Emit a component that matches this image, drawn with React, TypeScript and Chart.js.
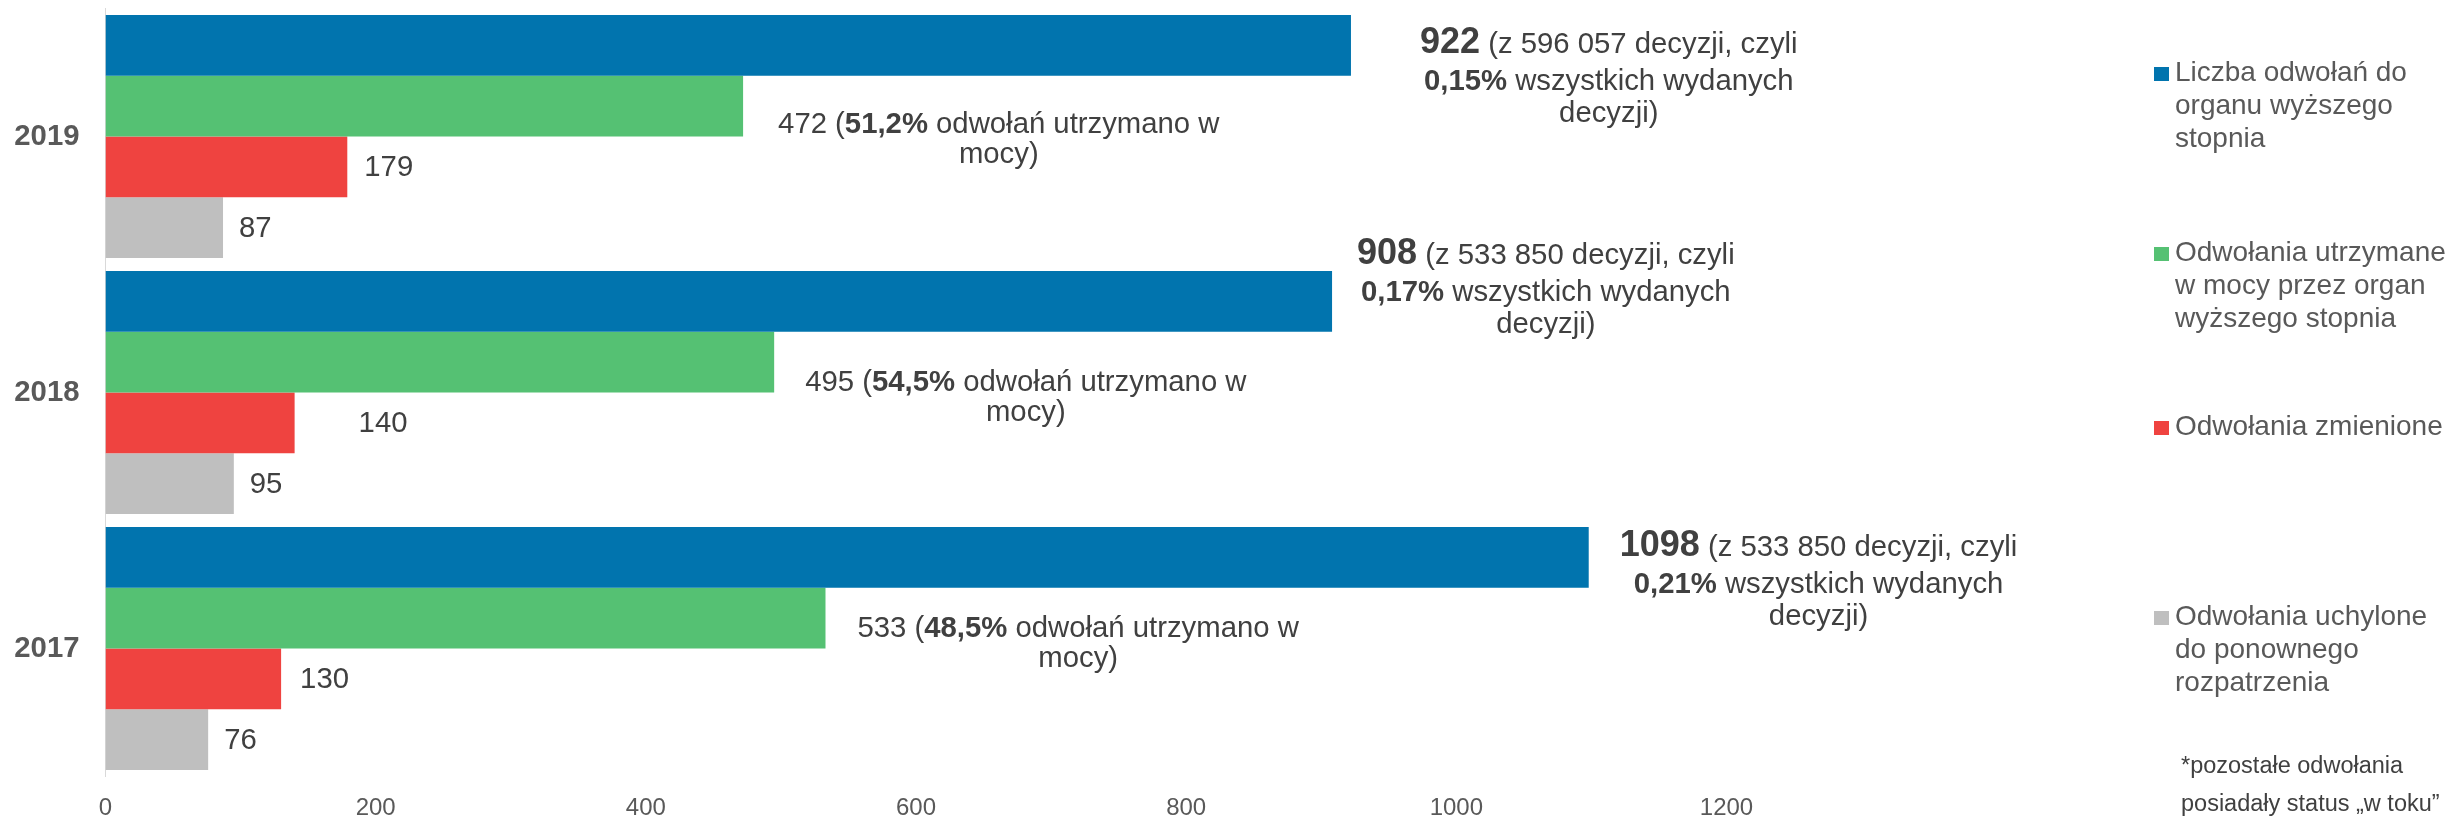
import React, { useEffect, useRef } from 'react';
import { Chart, registerables } from 'chart.js';

Chart.register(...registerables);

// ---------- data ----------
const categories = ['2019', '2018', '2017'];
const appealsTotal = [922, 908, 1098];
const appealsUpheld = [472, 495, 533];
const appealsChanged = [179, 140, 130];
const appealsRevoked = [87, 95, 76];
const decisionsIssued = ['596 057', '533 850', '533 850'];
const appealsShareOfDecisions = ['0,15%', '0,17%', '0,21%'];
const upheldShare = ['51,2%', '54,5%', '48,5%'];
const xTicks = [0, 200, 400, 600, 800, 1000, 1200];
const seriesNames = [
  'Liczba odwołań do organu wyższego stopnia',
  'Odwołania utrzymane w mocy przez organ wyższego stopnia',
  'Odwołania zmienione',
  'Odwołania uchylone do ponownego rozpatrzenia',
];
const legendLines = [
  ['Liczba odwołań do', 'organu wyższego', 'stopnia'],
  ['Odwołania utrzymane', 'w mocy przez organ', 'wyższego stopnia'],
  ['Odwołania zmienione'],
  ['Odwołania uchylone', 'do ponownego', 'rozpatrzenia'],
];
const footnoteLines = ['*pozostałe odwołania', 'posiadały status „w toku”'];

// ---------- styles / layout ----------
const W = 2451;
const H = 818;
const FONT = '"Liberation Sans", Arial, Helvetica, sans-serif';
const COLORS = ['#0174AE', '#55C173', '#EF4340', '#BFBFBF'];
const LABEL_COLOR = '#404040';
const AXIS_COLOR = '#595959';
const NORM = 29.3;
const BIG = 36;

// label nudges (gap from bar end, baseline offset from bar centre)
const blueNudge = [
  { gap: 69, dy: 7.5 },
  { gap: 25, dy: -37.5 },
  { gap: 31, dy: -1.5 },
];
const greenNudge = [
  { gap: 35, dy: 26.5 },
  { gap: 31, dy: 29 },
  { gap: 32, dy: 19 },
];
const redGap = [17, 64, 19];
const grayGap = [16, 16, 16];
const legendFirstLineY = [73, 253, 427, 617];

type Seg = { t: string; b?: boolean; big?: boolean };

function segFont(s: Seg) {
  return `${s.b ? 'bold ' : ''}${s.big ? BIG : NORM}px ${FONT}`;
}

function drawBlock(ctx: CanvasRenderingContext2D, lines: Seg[][], left: number, base0: number, offs: number[]) {
  const widths = lines.map((line) =>
    line.reduce((acc, s) => {
      ctx.font = segFont(s);
      return acc + ctx.measureText(s.t).width;
    }, 0)
  );
  const blockW = Math.max(...widths);
  ctx.textAlign = 'left';
  ctx.textBaseline = 'alphabetic';
  ctx.fillStyle = LABEL_COLOR;
  lines.forEach((line, k) => {
    let x = left + (blockW - widths[k]) / 2;
    const y = base0 + offs[k];
    line.forEach((s) => {
      ctx.font = segFont(s);
      ctx.fillText(s.t, x, y);
      x += ctx.measureText(s.t).width;
    });
  });
}

const labelPlugin = {
  id: 'barLabels',
  afterDatasetsDraw(chart: any) {
    const ctx: CanvasRenderingContext2D = chart.ctx;
    ctx.save();
    categories.forEach((_, i) => {
      const blue = chart.getDatasetMeta(0).data[i];
      const green = chart.getDatasetMeta(1).data[i];
      const red = chart.getDatasetMeta(2).data[i];
      const gray = chart.getDatasetMeta(3).data[i];

      drawBlock(
        ctx,
        [
          [{ t: String(appealsTotal[i]), b: true, big: true }, { t: ` (z ${decisionsIssued[i]} decyzji, czyli` }],
          [{ t: appealsShareOfDecisions[i], b: true }, { t: ' wszystkich wydanych' }],
          [{ t: 'decyzji)' }],
        ],
        blue.x + blueNudge[i].gap,
        blue.y + blueNudge[i].dy,
        [0, 37, 69]
      );

      drawBlock(
        ctx,
        [
          [{ t: `${appealsUpheld[i]} (` }, { t: upheldShare[i], b: true }, { t: ' odwołań utrzymano w' }],
          [{ t: 'mocy)' }],
        ],
        green.x + greenNudge[i].gap,
        green.y + greenNudge[i].dy,
        [0, 30]
      );

      ctx.font = `${NORM}px ${FONT}`;
      ctx.fillStyle = LABEL_COLOR;
      ctx.textAlign = 'left';
      ctx.textBaseline = 'middle';
      ctx.fillText(String(appealsChanged[i]), red.x + redGap[i], red.y + 1);
      ctx.fillText(String(appealsRevoked[i]), gray.x + grayGap[i], gray.y + 1);
    });
    ctx.restore();
  },
};

const legendPlugin = {
  id: 'customLegend',
  afterDraw(chart: any) {
    const ctx: CanvasRenderingContext2D = chart.ctx;
    ctx.save();
    ctx.textAlign = 'left';
    ctx.textBaseline = 'middle';
    legendLines.forEach((lines, j) => {
      const y0 = legendFirstLineY[j];
      ctx.fillStyle = COLORS[j];
      ctx.fillRect(2154, y0 - 6, 15, 14);
      ctx.fillStyle = AXIS_COLOR;
      ctx.font = `28px ${FONT}`;
      lines.forEach((ln, k) => ctx.fillText(ln, 2175, y0 + k * 33));
    });
    ctx.fillStyle = LABEL_COLOR;
    ctx.font = `23.5px ${FONT}`;
    footnoteLines.forEach((ln, k) => ctx.fillText(ln, 2181, 767 + k * 38));
    ctx.restore();
  },
};

export default function App() {
  const ref = useRef<HTMLCanvasElement | null>(null);

  useEffect(() => {
    if (!ref.current) return;
    const datasets = [appealsTotal, appealsUpheld, appealsChanged, appealsRevoked].map((d, i) => ({
      label: seriesNames[i],
      data: d,
      backgroundColor: COLORS[i],
      borderWidth: 0,
      categoryPercentage: 243 / 256,
      barPercentage: 1,
    }));
    const chart = new Chart(ref.current, {
      type: 'bar',
      data: { labels: categories, datasets },
      options: {
        indexAxis: 'y',
        responsive: false,
        animation: false,
        devicePixelRatio: 1,
        events: [],
        layout: { padding: { left: 0, right: W - 1726.5, top: 8.5, bottom: 0 } },
        scales: {
          x: {
            min: 0,
            max: 1200,
            afterBuildTicks: (s: any) => {
              s.ticks = xTicks.map((v) => ({ value: v }));
            },
            afterFit: (s: any) => {
              s.height = H - 776.5;
              s.paddingLeft = 0;
              s.paddingRight = 0;
            },
            ticks: {
              font: { family: FONT, size: 24 },
              color: AXIS_COLOR,
              padding: 17,
              maxRotation: 0,
              callback: (v: any) => String(v),
            },
            grid: { display: false, drawTicks: false },
            border: { display: false },
          },
          y: {
            afterFit: (s: any) => {
              s.width = 105.5;
              s.paddingTop = 0;
              s.paddingBottom = 0;
            },
            ticks: { font: { family: FONT, size: 29.3, weight: 'bold' }, color: AXIS_COLOR, padding: 26 },
            grid: { display: false, drawTicks: false },
            border: { display: true, color: '#D9D9D9', width: 1 },
          },
        },
        plugins: { legend: { display: false }, tooltip: { enabled: false } },
      } as any,
      plugins: [labelPlugin, legendPlugin],
    });
    return () => chart.destroy();
  }, []);

  return (
    <div style={{ position: 'absolute', left: 0, top: 0, width: W, height: H, background: '#fff' }}>
      <canvas ref={ref} width={W} height={H} style={{ width: W, height: H, display: 'block' }} />
    </div>
  );
}
